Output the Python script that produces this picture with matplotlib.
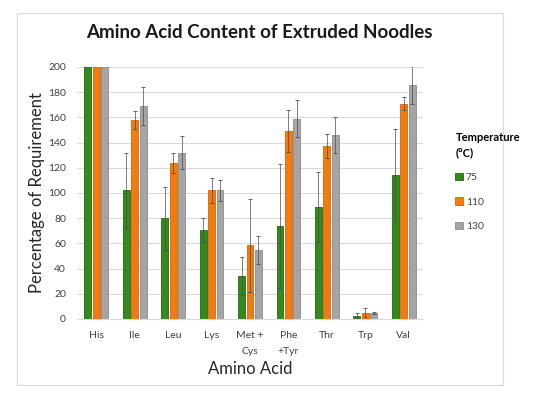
import matplotlib
matplotlib.use("Agg")
import matplotlib.pyplot as plt
import numpy as np
from matplotlib.patches import Rectangle

plt.rcParams['font.family'] = ['Lato', 'DejaVu Sans']

categories = ["His", "Ile", "Leu", "Lys", "Met +\nCys", "Phe\n+Tyr", "Thr", "Trp", "Val"]
temps = ["75", "110", "130"]
vals_75 = [200, 102, 80, 71, 34, 74, 89, 2.4, 114]
vals_110 = [200, 158, 124, 102, 58.5, 149, 137, 5, 171]
vals_130 = [200, 169, 132, 102, 54.5, 159, 146, 4.8, 186]
err_75 = [0, 30, 25, 9.5, 15, 49, 28, 2, 37]
err_110 = [0, 7, 8, 10, 37, 16.5, 9.5, 3.7, 5]
err_130 = [0, 15, 13, 8.5, 11, 14.5, 14, 1, 15]

colors = ["#358A1C", "#F27A0E", "#A5A5A5"]
edges = ["#24661A", "#D8650A", "#8C8C8C"]

fig = plt.figure(figsize=(5.49, 3.99), dpi=100)
# outer chart frame
fig.patches.append(Rectangle((17/549, 1-385/399), (503-17)/549, (385-13)/399,
                             transform=fig.transFigure, fill=False,
                             edgecolor="#D9D9D9", linewidth=0.8))

ax = fig.add_axes([77/549, 1-319/399, (423-77)/549, (319-67)/399])
x = np.arange(len(categories))
w = 0.18
off = 0.22
for i, (v, e) in enumerate(zip([vals_75, vals_110, vals_130], [err_75, err_110, err_130])):
    xs = x + (i-1)*off
    ax.bar(xs, v, width=w, color=colors[i], edgecolor=edges[i], linewidth=0.6,
           label=temps[i], zorder=2)
    ev = np.array(e, dtype=float)
    mask = ev > 0
    ax.errorbar(xs[mask], np.array(v)[mask], yerr=ev[mask], fmt='none',
                ecolor="#4a4a4a", elinewidth=0.5, capsize=1.6, capthick=0.6, zorder=3)

ax.set_xlim(-0.5, len(categories)-0.5)
ax.set_ylim(0, 200)
ax.set_yticks(np.arange(0, 201, 20))
ax.yaxis.grid(True, color="#D9D9D9", linewidth=0.8, zorder=0)
ax.set_axisbelow(True)
for s in ["top", "right", "left"]:
    ax.spines[s].set_visible(False)
ax.spines["bottom"].set_color("#D9D9D9")
ax.spines["bottom"].set_linewidth(0.8)
ax.tick_params(axis="both", length=0, labelsize=7.5, labelcolor="#404040")
ax.tick_params(axis="y", pad=8)
ax.tick_params(axis="x", pad=9)
ax.set_xticks(x)
ax.set_xticklabels(categories, linespacing=1.9)

ax.set_ylabel("Percentage of Requirement", fontsize=12, color="#262626", labelpad=2)
ax.set_xlabel("Amino Acid", fontsize=12, color="#262626", labelpad=4)

fig.text(259/549, 1-33/399, "Amino Acid Content of Extruded Noodles",
         ha="center", va="center", fontsize=13.5, fontweight="bold", color="#1a1a1a")

leg = fig.legend(loc="upper left", bbox_to_anchor=(446/549, 1-123/399),
                 title="Temperature\n(°C)", frameon=False, fontsize=7.5,
                 title_fontsize=8, handlelength=0.7, handleheight=0.7,
                 handletextpad=0.3, labelspacing=1.45, alignment="left")
leg.get_title().set_fontweight("bold")
leg.get_title().set_linespacing(1.4)
for t in leg.get_texts():
    t.set_color("#404040")

fig.savefig("out.png", dpi=100)
